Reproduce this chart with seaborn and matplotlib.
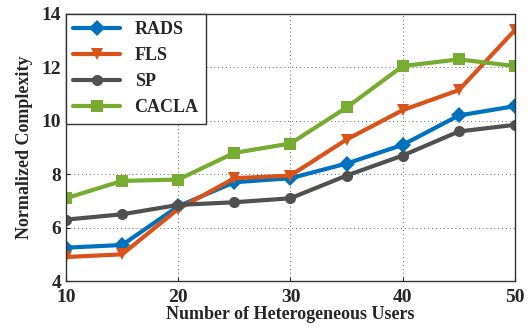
import numpy as np
import pandas as pd
import matplotlib
matplotlib.use("Agg")
import matplotlib.pyplot as plt
import seaborn as sns

# data
users = [10, 15, 20, 25, 30, 35, 40, 45, 50]
rads = [5.25, 5.35, 6.8, 7.7, 7.85, 8.4, 9.1, 10.2, 10.55]
fls = [4.9, 5.0, 6.7, 7.85, 7.95, 9.3, 10.4, 11.15, 13.4]
sp = [6.3, 6.5, 6.85, 6.95, 7.1, 7.95, 8.7, 9.6, 9.85]
cacla = [7.1, 7.75, 7.8, 8.8, 9.15, 10.5, 12.05, 12.3, 12.05]

methods = ["RADS", "FLS", "SP", "CACLA"]
colors = ["#0072BD", "#D95319", "#505050", "#77AC30"]
markers = ["D", "v", "o", "s"]

df = pd.DataFrame({
    "users": users * 4,
    "value": rads + fls + sp + cacla,
    "method": np.repeat(methods, len(users)),
})

sns.set_style("ticks")
plt.rcParams["font.family"] = ["Liberation Serif", "DejaVu Serif"]
plt.rcParams["font.weight"] = "bold"

fig, ax = plt.subplots(figsize=(5.32, 3.33), dpi=100)
sns.lineplot(data=df, x="users", y="value", hue="method", style="method",
             hue_order=methods, style_order=methods,
             palette=colors, markers=markers, dashes=False,
             linewidth=3, markersize=8, markeredgewidth=0, ax=ax)

ax.set_xlim(10, 50)
ax.set_ylim(4, 14)
ax.set_xticks([10, 20, 30, 40, 50])
ax.set_yticks([4, 6, 8, 10, 12, 14])
ax.grid(True, linestyle=(0, (1, 3)), color="#666666", linewidth=0.7)
ax.tick_params(labelsize=14, direction="in", length=3)
ax.tick_params(axis="x", pad=6)
for lab in ax.get_xticklabels() + ax.get_yticklabels():
    lab.set_fontweight("bold")
for s in ax.spines.values():
    s.set_visible(True)
    s.set_color("#333333")
    s.set_linewidth(1.0)

ax.set_xlabel("Number of Heterogeneous Users", fontsize=13, fontweight="bold", labelpad=0)
ax.set_ylabel("Normalized Complexity", fontsize=13, fontweight="bold", labelpad=6)

leg = ax.legend(loc="upper left", fontsize=13, handlelength=2.6,
                borderaxespad=0, fancybox=False, framealpha=1,
                edgecolor="#333333", labelspacing=0.5)
for t in leg.get_texts():
    t.set_fontweight("bold")

fig.subplots_adjust(left=0.124, right=0.968, top=0.958, bottom=0.156)
fig.savefig("out.png", dpi=100)
